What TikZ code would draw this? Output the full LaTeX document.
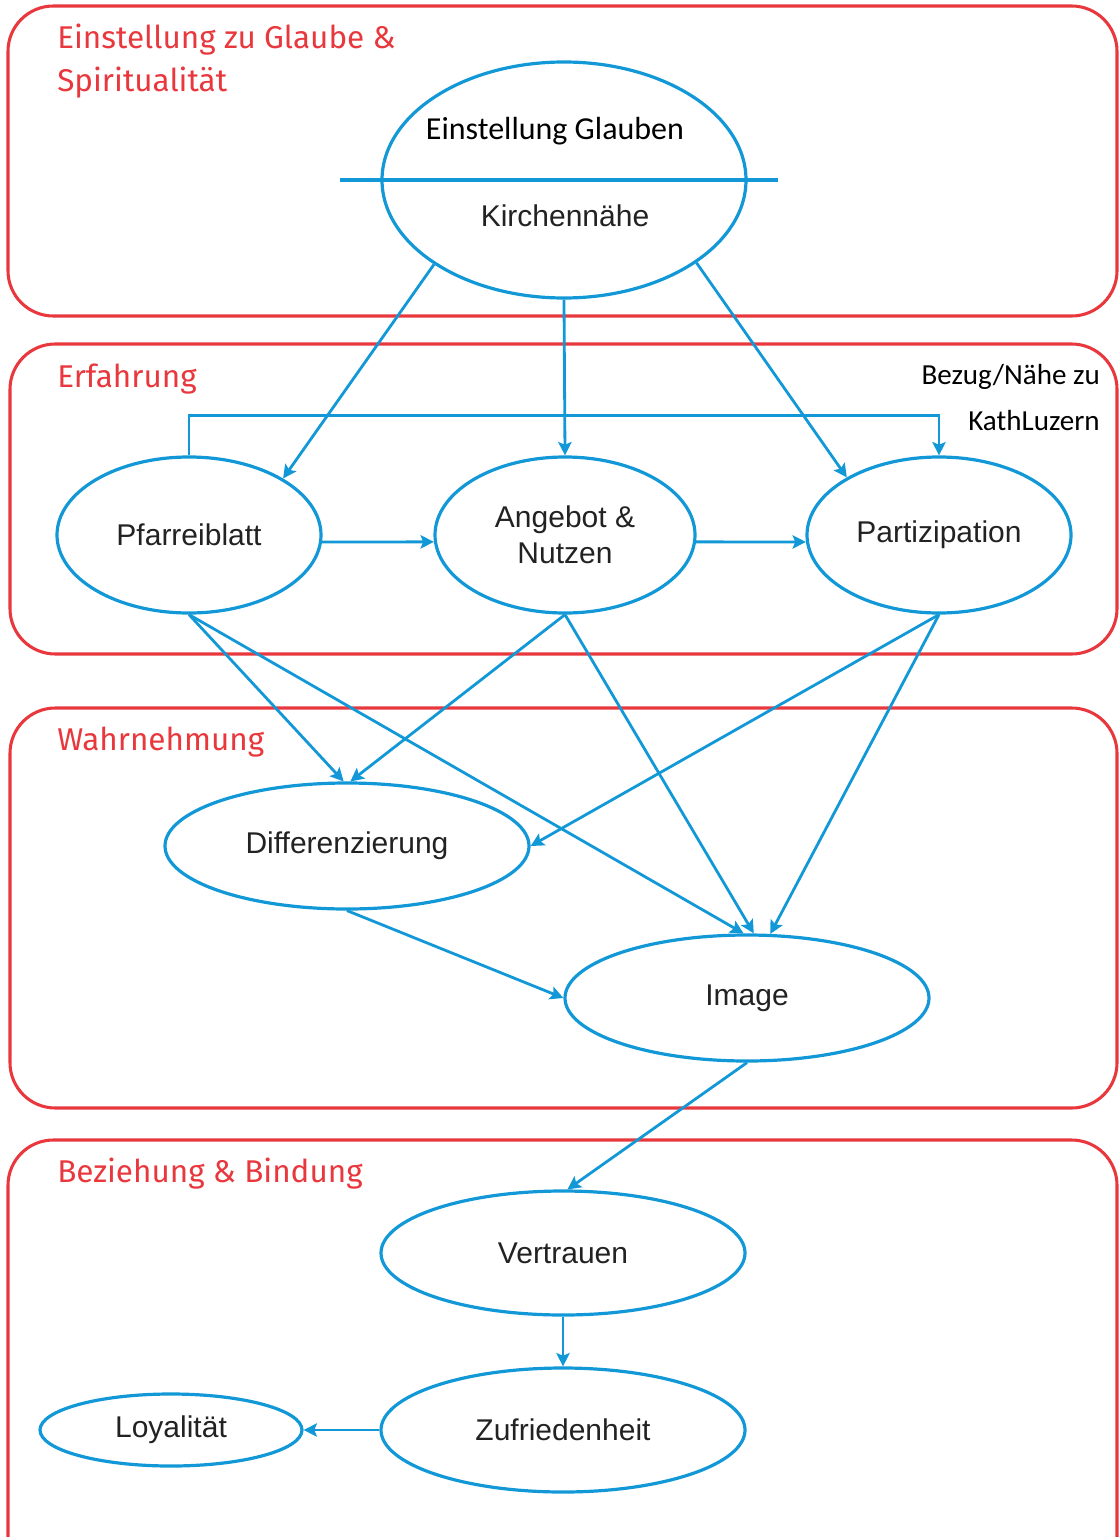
\documentclass[tikz,border=0pt]{standalone}
\usepackage{fontspec}
\setmainfont{Liberation Sans}
\newfontfamily\redfont{Fira Sans}
\newfontfamily\calfont{Carlito}
\usetikzlibrary{shapes.geometric,arrows.meta}
\definecolor{boxred}{RGB}{232,56,61}
\definecolor{lineblue}{RGB}{18,152,214}
\definecolor{txtgray}{RGB}{34,34,34}
\tikzset{
  redbox/.style={draw=boxred, line width=2.3pt, rounded corners=34pt},
  redlabel/.style={anchor=base west, inner sep=0pt, text=boxred, font=\redfont\fontsize{23.6}{32}\selectfont},
  ell/.style={ellipse, draw=lineblue, line width=2.4pt, inner sep=0pt, text=txtgray,
     font=\fontsize{22.5}{27}\selectfont, align=center},
  arr/.style={draw=lineblue, line width=2.1pt, -{Stealth[length=10pt,width=10pt,inset=2pt]}},
  caltext/.style={inner sep=0pt, text=black, font=\calfont\fontsize{24}{28}\selectfont},
  calsmall/.style={inner sep=0pt, anchor=east, text=black, font=\calfont\fontsize{21.8}{24}\selectfont}
}
\begin{document}
\begin{tikzpicture}[x=0.75pt,y=-0.75pt]
\useasboundingbox (0,0) rectangle (1119,1537);
% group boxes
\draw[redbox] (8,6) rectangle (1117,316);
\draw[redbox] (10,344) rectangle (1117,654);
\draw[redbox] (10,708) rectangle (1117,1108);
\draw[redbox] (8,1140) rectangle (1117,1585);
% group labels
\node[redlabel] (l1a) at (57,49) {Einstellung zu Glaube \&};
\node[redlabel] (l1b) at (57,92) {Spiritualität};
\node[redlabel] (l2) at (57,387) {Erfahrung};
\node[redlabel] (l3) at (57,750) {Wahrnehmung};
\node[redlabel] (l4) at (57,1182) {Beziehung \& Bindung};
% top ellipse
\node[ell, minimum width=273pt, minimum height=177pt] (top) at (564,180) {};
\coordinate (hl1) at (340,180);
\coordinate (hl2) at (778,180);
\draw[draw=lineblue, line width=3.6pt] (hl1) -- (hl2);
\node[caltext] (glaube) at (555,131) {Einstellung Glauben};
\node[inner sep=0pt, text=txtgray, font=\fontsize{22.5}{27}\selectfont] (kirche) at (565,216) {Kirchennähe};
% second row
\node[ell, minimum width=198pt, minimum height=117pt] (pf) at (189,535) {Pfarreiblatt};
\node[ell, minimum width=195pt, minimum height=117pt] (ang) at (565,535) {Angebot \&\\Nutzen};
\node[ell, minimum width=198pt, minimum height=117pt] (par) at (939,535) {Partizipation};
\node[calsmall] (bez1) at (1100,377) {Bezug/Nähe zu};
\node[calsmall] (bez2) at (1100,421) {KathLuzern};
% third
\node[ell, minimum width=273pt, minimum height=94.5pt] (diff) at (347,846) {Differenzierung};
\node[ell, minimum width=273pt, minimum height=94.5pt] (img) at (747,998) {Image};
% fourth
\node[ell, minimum width=273pt, minimum height=93pt] (vert) at (563,1253) {Vertrauen};
\node[ell, minimum width=273pt, minimum height=93pt] (zuf) at (563,1430) {Zufriedenheit};
\node[ell, minimum width=196.5pt, minimum height=54pt] (loy) at (171,1430) {Loyalität};
% connectors
\draw[arr] (top.-147.4) -- (pf.31);
\draw[arr] (top.south) -- (ang.north);
\draw[arr] (top.-32.8) -- (par.148.8);
\draw[arr] (pf.north) -- ++(0,-40) -| (par.north);
\draw[arr] (pf.-3.5) -- (ang.183.5);
\draw[arr] (ang.-3.5) -- (par.183.5);
\draw[arr] (pf.south) -- (diff.93);
\draw[arr] (pf.south) -- (img.93);
\draw[arr] (ang.south) -- (diff.87);
\draw[arr] (ang.south) -- (img.84);
\draw[arr] (par.south) -- (diff.east);
\draw[arr] (par.south) -- (img.70);
\draw[arr] (diff.south) -- (img.west);
\draw[arr] (img.south) -- (vert.86);
\draw[arr] (vert.south) -- (zuf.north);
\draw[arr] (zuf.west) -- (loy.east);
\end{tikzpicture}
\end{document}
